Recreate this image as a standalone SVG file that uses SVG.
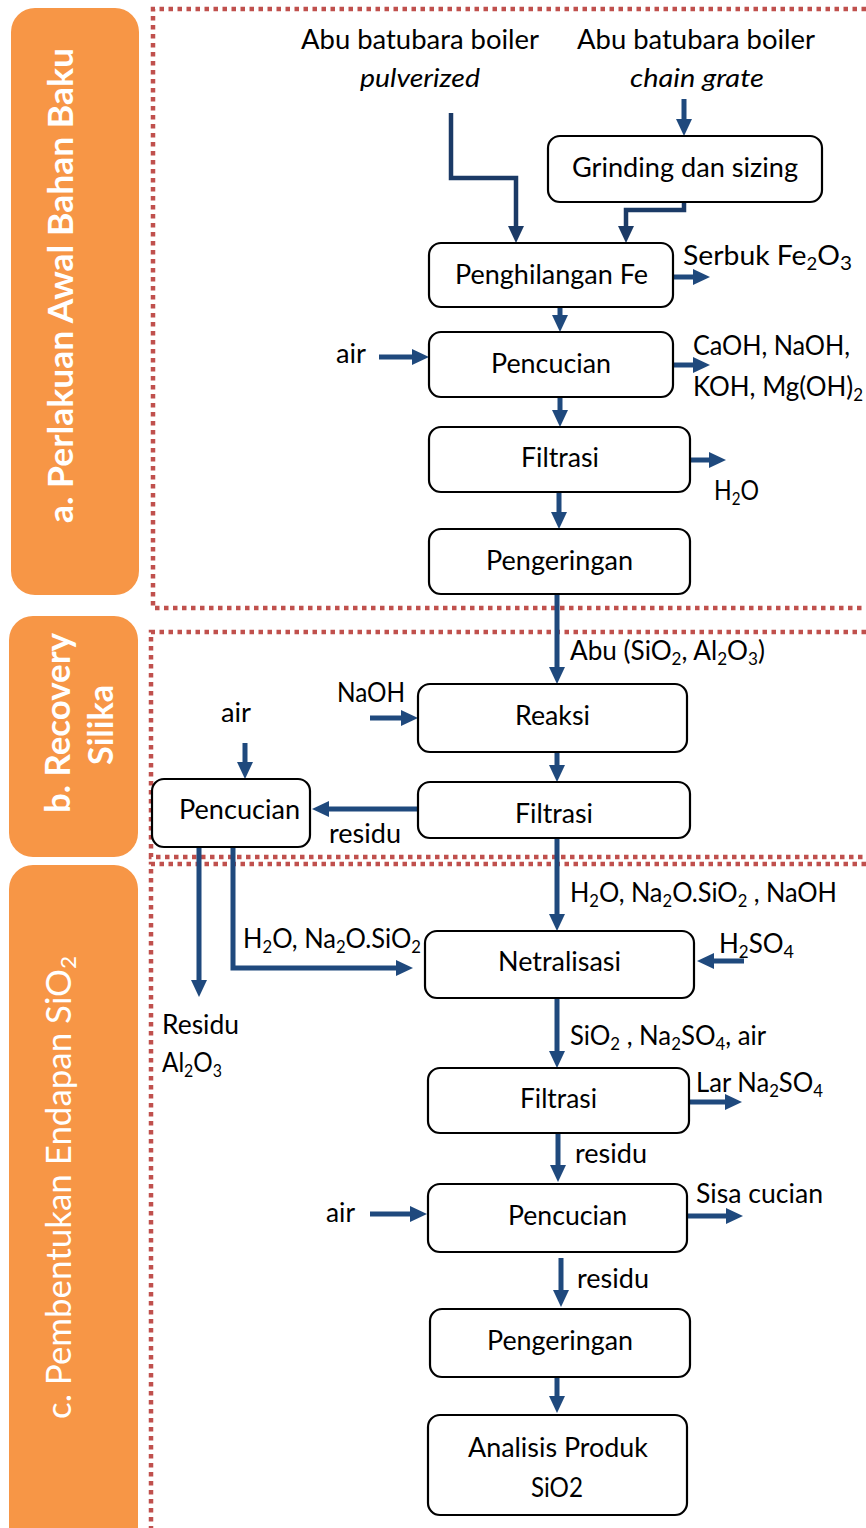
<svg xmlns="http://www.w3.org/2000/svg" width="866" height="1528" viewBox="0 0 866 1528">
<style>
.bar{fill:#F79646}
.bt{fill:#fff;font-family:Lato,"Open Sans",sans-serif;font-size:34px}
.box{fill:#fff;stroke:#000;stroke-width:2.2}
.t{font-family:Lato,"Liberation Sans",sans-serif;font-size:26px;fill:#000}
.it{font-style:italic}
.sb{font-size:17px}
.dot{fill:none;stroke:#C0504D;stroke-width:4.5;stroke-dasharray:4.5 4.5}
.c{fill:none;stroke:#1F497D;stroke-width:5;marker-end:url(#ah)}
.cd{fill:none;stroke:#1B3A66;stroke-width:4.5;marker-end:url(#ahd)}
</style>
<defs>
<marker id="ah" viewBox="0 0 17 16" markerUnits="userSpaceOnUse" markerWidth="17" markerHeight="16" refX="7" refY="8" orient="auto"><path d="M0,0 L17,8 L0,16 z" fill="#1F497D"/></marker>
<marker id="ahd" viewBox="0 0 17 16" markerUnits="userSpaceOnUse" markerWidth="17" markerHeight="16" refX="7" refY="8" orient="auto"><path d="M0,0 L17,8 L0,16 z" fill="#1B3A66"/></marker>
</defs>
<rect width="866" height="1528" fill="#fff"/>

<g id="sections">
<rect class="bar" x="11" y="8" width="128" height="587" rx="24"/>
<rect class="bar" x="9" y="616" width="129" height="241" rx="24"/>
<rect class="bar" x="9" y="865" width="129" height="700" rx="24"/>
<text class="bt" font-weight="bold" x="73" y="523" transform="rotate(-90 73 523)" textLength="475" lengthAdjust="spacingAndGlyphs">a. Perlakuan Awal Bahan Baku</text>
<text class="bt" font-weight="bold" x="70" y="813" transform="rotate(-90 70 813)" textLength="180" lengthAdjust="spacingAndGlyphs">b. Recovery</text>
<text class="bt" font-weight="bold" x="113" y="765" transform="rotate(-90 113 765)" textLength="80" lengthAdjust="spacingAndGlyphs">Silika</text>
<text class="bt" x="71" y="1419" transform="rotate(-90 71 1419)" textLength="463" lengthAdjust="spacingAndGlyphs">c. Pembentukan Endapan SiO<tspan font-size="22" dy="5">2</tspan></text>
<path class="dot" d="M866,9 H153 V608 H866"/>
<path class="dot" d="M866,632 H151 V857 H866"/>
<path class="dot" d="M866,864 H151 V1528"/>
</g>

<g id="connectors">
<path class="cd" d="M451,113 V178 H516 V233"/>
<path class="c" d="M684,99 V126"/>
<path class="cd" d="M684,202 V210 H626 V233"/>
<path class="c" d="M673,277 H700"/>
<path class="c" d="M560,307 V322"/>
<path class="c" d="M379,357 H419"/>
<path class="c" d="M673,365 H700"/>
<path class="c" d="M560,397 V417"/>
<path class="c" d="M690,460 H716"/>
<path class="c" d="M559,492 V519"/>
<path class="c" d="M557,594 V674"/>
<path class="c" d="M370,718 H408"/>
<path class="c" d="M557,752 V772"/>
<path class="c" d="M245,743 V769"/>
<path class="c" d="M418,809 H322"/>
<path class="c" d="M557,838 V921"/>
<path class="c" d="M199,847 V987"/>
<path class="c" d="M233,847 V968 H403"/>
<path class="c" d="M744,961 H707"/>
<path class="c" d="M557,998 V1058"/>
<path class="c" d="M689,1102 H732"/>
<path class="c" d="M558,1133 V1172"/>
<path class="c" d="M370,1214 H417"/>
<path class="c" d="M687,1216 H733"/>
<path class="c" d="M561,1258 V1297"/>
<path class="c" d="M557,1377 V1403"/>
</g>

<g id="labels">
<text class="t" x="301" y="49" textLength="238" lengthAdjust="spacingAndGlyphs">Abu batubara boiler</text>
<text class="t it" x="360" y="87" textLength="120" lengthAdjust="spacingAndGlyphs">pulverized</text>
<text class="t" x="577" y="49" textLength="238" lengthAdjust="spacingAndGlyphs">Abu batubara boiler</text>
<text class="t it" x="630" y="87" textLength="134" lengthAdjust="spacingAndGlyphs">chain grate</text>
<text class="t" x="683" y="265" font-size="29" textLength="169" lengthAdjust="spacingAndGlyphs">Serbuk Fe<tspan class="sb" font-size="19" dy="5">2</tspan><tspan dy="-5">O</tspan><tspan font-size="19" dy="5">3</tspan></text>
<text class="t" x="336" y="363" textLength="30" lengthAdjust="spacingAndGlyphs">air</text>
<text class="t" x="693" y="355" textLength="157" lengthAdjust="spacingAndGlyphs">CaOH, NaOH,</text>
<text class="t" x="693" y="396" textLength="170" lengthAdjust="spacingAndGlyphs">KOH, Mg(OH)<tspan class="sb" dy="5">2</tspan></text>
<text class="t" x="714" y="500" textLength="45" lengthAdjust="spacingAndGlyphs">H<tspan class="sb" dy="5">2</tspan><tspan dy="-5">O</tspan></text>
<text class="t" x="570" y="660" textLength="195" lengthAdjust="spacingAndGlyphs">Abu (SiO<tspan class="sb" dy="5">2</tspan><tspan dy="-5">, Al</tspan><tspan class="sb" dy="5">2</tspan><tspan dy="-5">O</tspan><tspan class="sb" dy="5">3</tspan><tspan dy="-5">)</tspan></text>
<text class="t" x="337" y="702" textLength="68" lengthAdjust="spacingAndGlyphs">NaOH</text>
<text class="t" x="221" y="722" textLength="30" lengthAdjust="spacingAndGlyphs">air</text>
<text class="t" x="329" y="843" textLength="72" lengthAdjust="spacingAndGlyphs">residu</text>
<text class="t" x="570" y="902" textLength="267" lengthAdjust="spacingAndGlyphs">H<tspan class="sb" dy="5">2</tspan><tspan dy="-5">O, Na</tspan><tspan class="sb" dy="5">2</tspan><tspan dy="-5">O.SiO</tspan><tspan class="sb" dy="5">2</tspan><tspan dy="-5"> , NaOH</tspan></text>
<text class="t" x="243" y="948" textLength="178" lengthAdjust="spacingAndGlyphs">H<tspan class="sb" dy="5">2</tspan><tspan dy="-5">O, Na</tspan><tspan class="sb" dy="5">2</tspan><tspan dy="-5">O.SiO</tspan><tspan class="sb" dy="5">2</tspan></text>
<text class="t" x="719" y="953" font-size="28" textLength="75" lengthAdjust="spacingAndGlyphs">H<tspan class="sb" font-size="18" dy="5">2</tspan><tspan dy="-5">SO</tspan><tspan font-size="18" dy="5">4</tspan></text>
<text class="t" x="162" y="1034" textLength="77" lengthAdjust="spacingAndGlyphs">Residu</text>
<text class="t" x="162" y="1072" textLength="60" lengthAdjust="spacingAndGlyphs">Al<tspan class="sb" dy="5">2</tspan><tspan dy="-5">O</tspan><tspan class="sb" dy="5">3</tspan></text>
<text class="t" x="570" y="1045" textLength="196" lengthAdjust="spacingAndGlyphs">SiO<tspan class="sb" dy="5">2</tspan><tspan dy="-5"> , Na</tspan><tspan class="sb" dy="5">2</tspan><tspan dy="-5">SO</tspan><tspan class="sb" dy="5">4</tspan><tspan dy="-5">, air</tspan></text>
<text class="t" x="696" y="1092" textLength="127" lengthAdjust="spacingAndGlyphs">Lar Na<tspan class="sb" dy="5">2</tspan><tspan dy="-5">SO</tspan><tspan class="sb" dy="5">4</tspan></text>
<text class="t" x="575" y="1163" textLength="72" lengthAdjust="spacingAndGlyphs">residu</text>
<text class="t" x="326" y="1222" textLength="29" lengthAdjust="spacingAndGlyphs">air</text>
<text class="t" x="696" y="1203" textLength="127" lengthAdjust="spacingAndGlyphs">Sisa cucian</text>
<text class="t" x="577" y="1288" textLength="72" lengthAdjust="spacingAndGlyphs">residu</text>
</g>

<g id="n-grinding"><rect class="box" x="548" y="136" width="274" height="66" rx="12"/><text class="t" x="572" y="177" textLength="226" lengthAdjust="spacingAndGlyphs">Grinding dan sizing</text></g>
<g id="n-penghilangan"><rect class="box" x="429" y="243" width="244" height="64" rx="12"/><text class="t" x="455" y="284" textLength="193" lengthAdjust="spacingAndGlyphs">Penghilangan Fe</text></g>
<g id="n-pencucian-a"><rect class="box" x="429" y="332" width="244" height="65" rx="12"/><text class="t" x="491" y="373" textLength="120" lengthAdjust="spacingAndGlyphs">Pencucian</text></g>
<g id="n-filtrasi-a"><rect class="box" x="429" y="427" width="261" height="65" rx="12"/><text class="t" x="521" y="467" textLength="78" lengthAdjust="spacingAndGlyphs">Filtrasi</text></g>
<g id="n-pengeringan-a"><rect class="box" x="429" y="529" width="261" height="65" rx="12"/><text class="t" x="486" y="570" textLength="147" lengthAdjust="spacingAndGlyphs">Pengeringan</text></g>
<g id="n-reaksi"><rect class="box" x="418" y="684" width="269" height="68" rx="12"/><text class="t" x="515" y="725" textLength="75" lengthAdjust="spacingAndGlyphs">Reaksi</text></g>
<g id="n-filtrasi-b"><rect class="box" x="418" y="782" width="272" height="56" rx="12"/><text class="t" x="515" y="823" textLength="78" lengthAdjust="spacingAndGlyphs">Filtrasi</text></g>
<g id="n-pencucian-b"><rect class="box" x="152" y="779" width="158" height="68" rx="12"/><text class="t" x="179" y="819" textLength="121" lengthAdjust="spacingAndGlyphs">Pencucian</text></g>
<g id="n-netralisasi"><rect class="box" x="425" y="931" width="269" height="67" rx="12"/><text class="t" x="498" y="971" textLength="123" lengthAdjust="spacingAndGlyphs">Netralisasi</text></g>
<g id="n-filtrasi-c"><rect class="box" x="428" y="1068" width="261" height="65" rx="12"/><text class="t" x="520" y="1108" textLength="77" lengthAdjust="spacingAndGlyphs">Filtrasi</text></g>
<g id="n-pencucian-c"><rect class="box" x="428" y="1184" width="259" height="68" rx="12"/><text class="t" x="508" y="1225" textLength="119" lengthAdjust="spacingAndGlyphs">Pencucian</text></g>
<g id="n-pengeringan-c"><rect class="box" x="430" y="1309" width="260" height="68" rx="12"/><text class="t" x="487" y="1350" textLength="146" lengthAdjust="spacingAndGlyphs">Pengeringan</text></g>
<g id="n-analisis"><rect class="box" x="428" y="1415" width="259" height="100" rx="12"/><text class="t" x="468" y="1457" textLength="180" lengthAdjust="spacingAndGlyphs">Analisis Produk</text><text class="t" x="531" y="1497" textLength="52" lengthAdjust="spacingAndGlyphs">SiO2</text></g>
</svg>
